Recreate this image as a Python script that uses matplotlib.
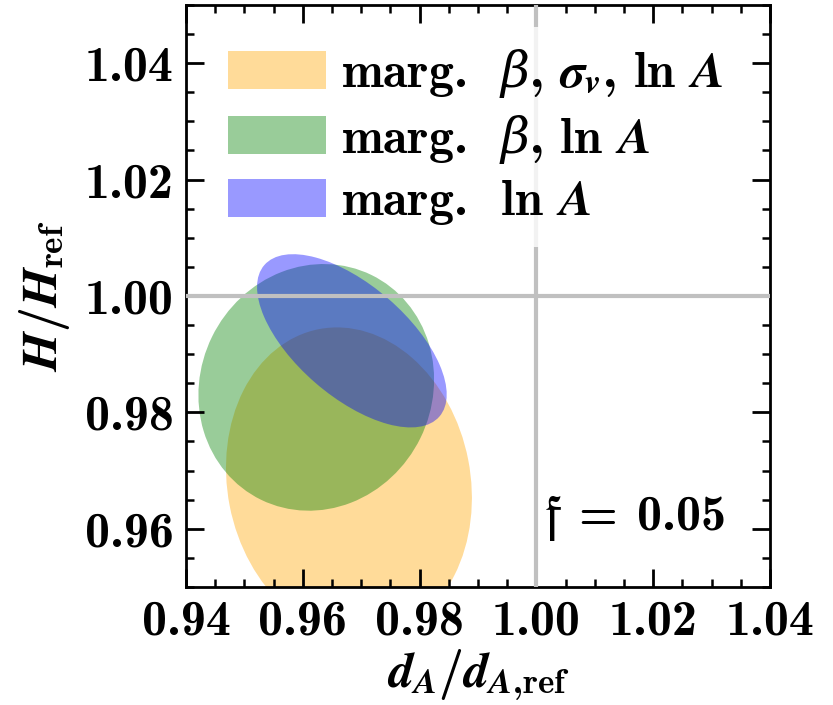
import matplotlib
matplotlib.use('Agg')
import matplotlib.pyplot as plt
from matplotlib.patches import Ellipse, Patch
from matplotlib.ticker import MultipleLocator, FormatStrFormatter

# Daten der Fehlerellipsen
labels = [r'marg.  $\mathsf{\beta}$, $\sigma_v$, $\ln\;A$',
          r'marg.  $\mathsf{\beta}$, $\ln\;A$',
          r'marg.  $\ln\;A$']
centro_x = [0.9679, 0.9623, 0.9684]
centro_y = [0.9679, 0.9843, 0.9923]
largura = [0.0416, 0.0430, 0.0397]
altura = [0.0538, 0.0397, 0.0191]
angulo = [11, 64, -41]
cores = ['orange', 'green', 'blue']

x_ticks = [0.94, 0.96, 0.98, 1.00, 1.02, 1.04]
y_ticks = [0.96, 0.98, 1.00, 1.02, 1.04]

plt.rcParams['font.family'] = 'cmb10'
plt.rcParams['mathtext.fontset'] = 'custom'
plt.rcParams['mathtext.rm'] = 'cmb10'
plt.rcParams['mathtext.bf'] = 'cmb10'
plt.rcParams['mathtext.it'] = 'STIXGeneral:italic:bold'
plt.rcParams['mathtext.sf'] = 'DejaVu Serif:italic'
plt.rcParams['mathtext.fallback'] = 'stix'
plt.rcParams['axes.formatter.use_mathtext'] = True

fs = 36

fig = plt.figure(figsize=(8.33, 7.05), dpi=100)
ax = fig.add_axes([0.2233, 0.1674, 0.7011, 0.8255])

handles = []
for i in range(len(labels)):
    e = Ellipse((centro_x[i], centro_y[i]), largura[i], altura[i], angle=angulo[i],
                facecolor=cores[i], alpha=0.4, lw=0, zorder=1 + i * 0.1)
    ax.add_patch(e)
    handles.append(Patch(facecolor=cores[i], alpha=0.4, lw=0, label=labels[i]))

ax.axvline(1.0, color='silver', lw=3.0, zorder=3)
ax.axhline(1.0, color='silver', lw=3.0, zorder=3)

ax.set_xlim(0.94, 1.04)
ax.set_ylim(0.95, 1.05)
ax.set_xticks(x_ticks)
ax.set_yticks(y_ticks)
ax.xaxis.set_major_formatter(FormatStrFormatter('%.2f'))
ax.yaxis.set_major_formatter(FormatStrFormatter('%.2f'))
ax.xaxis.set_minor_locator(MultipleLocator(0.005))
ax.yaxis.set_minor_locator(MultipleLocator(0.005))
ax.tick_params(which='both', direction='in', top=True, right=True, labelsize=fs)
ax.tick_params(which='major', length=13, width=2, pad=9)
ax.tick_params(which='minor', length=6, width=1.8)
for s in ax.spines.values():
    s.set_linewidth(2)

ax.set_xlabel(r'$d_A/d_{A,\!\rm ref}$', fontsize=fs, labelpad=2)
ax.set_ylabel(r'$H/H_{\rm ref}$', fontsize=fs, labelpad=9)

ax.text(0.923, 0.098, r'$\mathfrak{f}\;=\;0.05$', transform=ax.transAxes,
        ha='right', va='baseline', fontsize=fs)

leg = ax.legend(handles=handles, loc='upper left', fontsize=fs, frameon=True,
                facecolor='white', edgecolor='none', framealpha=0.8, fancybox=False,
                borderaxespad=0.44, borderpad=0.4, handlelength=1.95, handleheight=0.8,
                handletextpad=0.3, labelspacing=0.25)

fig.savefig('out.png', dpi=100)
